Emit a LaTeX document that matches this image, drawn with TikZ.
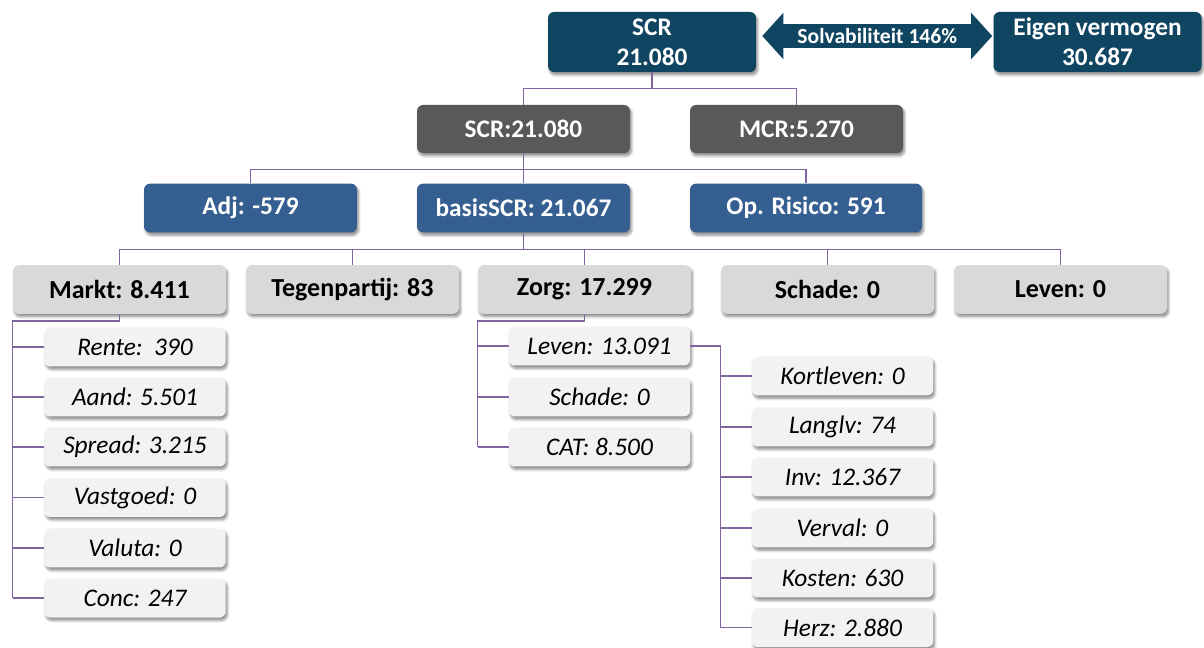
\documentclass[tikz,border=0pt]{standalone}
\usepackage{fontspec}
\setmainfont{Carlito}
\usepackage{xcolor}
\usetikzlibrary{calc,arrows.meta,shadows.blur}

\definecolor{topblue}{RGB}{16,69,97}
\definecolor{darkgrey}{RGB}{89,89,89}
\definecolor{midblue}{RGB}{54,95,145}
\definecolor{lightgrey}{RGB}{217,217,217}
\definecolor{childgrey}{RGB}{242,242,242}
\definecolor{linepurple}{RGB}{128,100,162}

\begin{document}
\begin{tikzpicture}[
    x=0.75pt, y=-0.75pt,
    box/.style={
      rectangle,
      rounded corners=4.5pt,
      inner sep=0pt,
      align=center,
      blur shadow={shadow xshift=1.2pt, shadow yshift=-2.2pt, shadow blur steps=6, shadow opacity=45}
    },
    topbox/.style={
      box,
      fill=topblue,
      text=white,
      minimum width=156pt,
      minimum height=45pt,
      font=\fontsize{19}{22.5}\selectfont\bfseries
    },
    greybox/.style={
      box,
      fill=darkgrey,
      text=white,
      minimum width=159.75pt,
      minimum height=36pt,
      font=\fontsize{19}{21}\selectfont\bfseries
    },
    bluebox/.style={
      box,
      fill=midblue,
      text=white,
      minimum width=159.75pt,
      minimum height=36.5pt,
      font=\fontsize{19}{21}\selectfont\bfseries
    },
    riskbox/.style={
      box,
      fill=lightgrey,
      text=black,
      minimum width=159.75pt,
      minimum height=36.5pt,
      font=\fontsize{19.5}{21}\selectfont\bfseries
    },
    subbox/.style={
      box,
      fill=childgrey,
      text=black,
      minimum width=136pt,
      minimum height=29.25pt,
      font=\fontsize{19}{21}\selectfont\itshape
    },
    conn/.style={draw=linepurple, line width=1pt},
    solvarrow/.style={
      draw=topblue,
      line width=18pt,
      {Triangle[length=15.75pt, width=33.75pt]}-{Triangle[length=15.75pt, width=33.75pt]}
    }
  ]

    \useasboundingbox (0,0) rectangle (1204,648);

    % SCR versus own funds
    \node[topbox] (scrtop) at (652,42) {SCR\\21.080};
    \node[topbox] (eigen) at (1097.5,42) {Eigen vermogen\\30.687};
    \draw[solvarrow] ($(scrtop.east)+(6,-6)$) -- ($(eigen.west)+(-1,-6)$)
      node[midway, text=white, font=\fontsize{16.2}{18}\selectfont\bfseries] (solv) {Solvabiliteit 146\%};

    % SCR and MCR
    \node[greybox] (scr) at (523.5,129) {SCR:21.080};
    \node[greybox] (mcr) at (796.5,129) {MCR:5.270};

    % Adjustment, basic SCR, operational risk
    \node[bluebox] (adj) at (250.5,208) {Adj: -579};
    \node[bluebox] (basis) at (523.5,208) {basisSCR: 21.067};
    \node[bluebox, minimum width=174pt] (oprisico) at (806,208) {Op. Risico: 591};

    % Risk modules
    \node[riskbox] (markt) at (119.5,289.5) {Markt: 8.411};
    \node[riskbox] (tegen) at (352.5,289.5) {Tegenpartij: 83};
    \node[riskbox] (zorg) at (584.5,289.5) {Zorg: 17.299};
    \node[riskbox] (schade) at (827.5,289.5) {Schade: 0};
    \node[riskbox] (leven) at (1060.5,289.5) {Leven: 0};

    % Market submodules
    \node[subbox] (rente) at (135,347) {Rente:~~390};
    \node[subbox] (aand) at (135,397) {Aand: 5.501};
    \node[subbox] (spread) at (135,447) {Spread: 3.215};
    \node[subbox] (vastgoed) at (135,497.5) {Vastgoed: 0};
    \node[subbox] (valuta) at (135,548) {Valuta: 0};
    \node[subbox] (conc) at (135,598) {Conc: 247};

    % Health submodules
    \node[subbox] (zleven) at (599.5,346) {Leven: 13.091};
    \node[subbox] (zschade) at (599.5,397) {Schade: 0};
    \node[subbox] (cat) at (599.5,447) {CAT: 8.500};

    % Life-like health submodules
    \node[subbox] (kortleven) at (842.5,376) {Kortleven: 0};
    \node[subbox] (langlv) at (842.5,427) {Langlv: 74};
    \node[subbox] (inv) at (842.5,477) {Inv: 12.367};
    \node[subbox] (verval) at (842.5,528) {Verval: 0};
    \node[subbox] (kosten) at (842.5,578) {Kosten: 630};
    \node[subbox] (herz) at (842.5,627.5) {Herz: 2.880};

    % Tree connectors
    \draw[conn] (scrtop.south) -- ++(0,16) coordinate (b1);
    \draw[conn] (scr.north) |- (b1) -| (mcr.north);

    \draw[conn] (scr.south) -- ++(0,16) coordinate (b2);
    \draw[conn] (adj.north) |- (b2) -| (oprisico.north);
    \draw[conn] (b2) -- (basis.north);

    \draw[conn] (basis.south) -- ++(0,17) coordinate (b3);
    \draw[conn] (markt.north) |- (b3) -| (leven.north);
    \foreach \n in {tegen,zorg,schade} {
      \draw[conn] (\n.north) -- (\n.north |- b3);
    }

    \draw[conn] (markt.south) -- ++(0,7) -| (markt.west |- conc.west);
    \foreach \n in {rente,aand,spread,vastgoed,valuta,conc} {
      \draw[conn] (markt.west |- \n.west) -- (\n.west);
    }

    \draw[conn] (zorg.south) -- ++(0,7) -| (zorg.west |- cat.west);
    \foreach \n in {zleven,zschade,cat} {
      \draw[conn] (zorg.west |- \n.west) -- (\n.west);
    }

    \draw[conn] (zleven.east) -- ++(30,0) coordinate (b5) |- (herz.west);
    \foreach \n in {kortleven,langlv,inv,verval,kosten,herz} {
      \draw[conn] (b5 |- \n.west) -- (\n.west);
    }

  \end{tikzpicture}
\end{document}
